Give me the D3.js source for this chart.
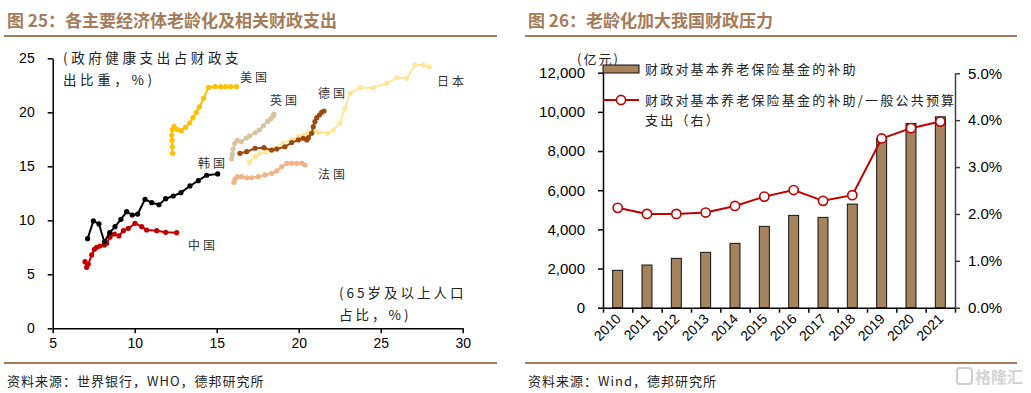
<!DOCTYPE html>
<html>
<head>
<meta charset="utf-8">
<script src="https://cdn.jsdelivr.net/npm/d3@7"></script>
<style>
  body { margin: 0; background: #fff; }
  svg text { font-family: "Noto Sans CJK SC", sans-serif; }
  .num { font-family: "Liberation Sans", Arial, sans-serif; }
</style>
</head>
<body>
<div id="chart"></div>
<script>
// ---- left chart data: [65+ population share %, health spending share of fiscal spending %]
var chinaPts = [[6.97, 6.17], [7.07, 5.65], [7.17, 5.95], [7.38, 6.79], [7.54, 7.31], [7.68, 7.5], [7.88, 7.62], [8.15, 7.71], [8.29, 7.87], [8.49, 8.43], [8.76, 8.73], [9.04, 8.55], [9.31, 9.04], [9.61, 9.26], [10.02, 9.72], [10.43, 9.41], [10.73, 9.1], [11.34, 9.04], [11.89, 8.89], [12.56, 8.85]];
var koreaPts = [[7.13, 8.3], [7.48, 9.94], [7.82, 9.66], [8.15, 7.99], [8.47, 8.85], [8.8, 9.41], [9.16, 10.09], [9.51, 10.8], [9.85, 10.49], [10.18, 10.58], [10.63, 11.94], [11.04, 11.63], [11.48, 11.44], [11.89, 12.0], [12.35, 12.25], [12.82, 12.56], [13.37, 13.18], [13.88, 13.67], [14.39, 14.17], [15.06, 14.29]];
var usaPts = [[12.3, 16.2], [12.3, 16.8], [12.28, 17.4], [12.26, 17.9], [12.3, 18.4], [12.4, 18.7], [12.6, 18.4], [12.85, 18.3], [13.1, 18.6], [13.35, 19.0], [13.55, 19.5], [13.75, 20.0], [13.95, 20.5], [14.2, 21.3], [14.5, 22.3], [14.9, 22.37], [15.25, 22.37], [15.55, 22.37], [15.85, 22.37], [16.2, 22.37]];
var ukPts = [[15.91, 15.7], [15.95, 16.1], [16.0, 16.6], [16.1, 17.1], [16.25, 17.4], [16.5, 17.28], [16.79, 17.62], [17.0, 17.8], [17.34, 18.1], [17.6, 18.36], [17.85, 18.75], [18.1, 19.15], [18.3, 19.4], [18.45, 19.66], [18.5, 19.84]];
var germanyPts = [[16.42, 16.2], [16.83, 16.35], [17.34, 16.67], [17.88, 16.72], [18.35, 16.5], [18.66, 16.6], [19.16, 16.81], [19.57, 17.2], [19.98, 17.44], [20.28, 17.59], [20.49, 17.44], [20.59, 17.65], [20.79, 18.06], [20.89, 18.67], [20.99, 19.13], [21.1, 19.5], [21.26, 19.75], [21.4, 20.0], [21.54, 20.12]];
var japanPts = [[16.99, 15.37], [17.34, 15.89], [17.64, 16.2], [18.05, 16.35], [18.55, 16.67], [19.06, 17.13], [19.57, 17.44], [19.98, 17.74], [20.28, 17.9], [20.59, 18.15], [20.89, 18.27], [21.2, 18.15], [21.8, 18.06], [22.11, 18.36], [22.52, 18.98], [22.82, 20.37], [23.13, 21.76], [23.74, 22.28], [24.55, 22.28], [25.37, 22.68], [25.98, 23.2], [26.59, 23.15], [27.09, 24.38], [27.6, 24.38], [27.97, 24.22]];
var francePts = [[16.05, 13.52], [16.12, 13.82], [16.26, 14.04], [16.52, 14.04], [16.83, 13.94], [17.13, 13.94], [17.54, 14.04], [17.95, 14.2], [18.35, 14.35], [18.66, 14.57], [18.96, 14.96], [19.27, 15.28], [19.57, 15.28], [19.88, 15.28], [20.18, 15.28], [20.38, 15.12]];
var leftXTicks = [5, 10, 15, 20, 25, 30];
var leftYTicks = [0, 5, 10, 15, 20, 25];

// ---- right chart data
var years = ["2010", "2011", "2012", "2013", "2014", "2015", "2016", "2017", "2018", "2019", "2020", "2021"];
var subsidy = [1908, 2179, 2520, 2826, 3285, 4153, 4714, 4612, 5291, 8640, 9408, 9745];
var subsidyRatio = [0.0213, 0.0200, 0.0200, 0.0203, 0.0217, 0.0237, 0.0251, 0.0228, 0.0240, 0.0361, 0.0383, 0.0397];
var rightYTicks = [0, 2000, 4000, 6000, 8000, 10000, 12000];
var rightY2Ticks = [0, 0.01, 0.02, 0.03, 0.04, 0.05];

var brown = "#a57b5a";
var width = 1031, height = 393;

var svg = d3.select("#chart").append("svg").attr("width", width).attr("height", height);

// panel frame: title, rules, source
function drawFrame(x0, x1, title, source) {
  svg.append("text").attr("x", x0 + 3).attr("y", 27).text(title)
    .style("font-size", "17px").style("font-weight", "bold").style("fill", brown);
  svg.append("line").attr("x1", x0).attr("x2", x1).attr("y1", 36).attr("y2", 36)
    .style("stroke", brown).style("stroke-width", 2.2);
  svg.append("line").attr("x1", x0).attr("x2", x1).attr("y1", 363).attr("y2", 363)
    .style("stroke", brown).style("stroke-width", 2.2);
  svg.append("text").attr("x", x0 + 3).attr("y", 386).text(source)
    .style("font-size", "13px").style("letter-spacing", "1px").style("fill", "#222");
}

drawFrame(4, 497, "图 25：各主要经济体老龄化及相关财政支出", "资料来源：世界银行，WHO，德邦研究所");
drawFrame(525, 1017, "图 26：老龄化加大我国财政压力", "资料来源：Wind，德邦研究所");

function styleAxis(g, size) {
  g.select(".domain").style("stroke", "#000").style("stroke-width", 1.5);
  g.selectAll(".tick line").style("stroke", "#000").style("stroke-width", 1.5);
  g.selectAll(".tick text").attr("class", "num").style("font-size", size).style("fill", "#000");
}

// ---------------- left chart ----------------
var xL = d3.scaleLinear().domain([5, 30]).range([52.7, 462.7]);
var yL = d3.scaleLinear().domain([0, 25]).range([328.3, 58.3]);

var gx = svg.append("g").attr("transform", "translate(0," + yL(0) + ")")
  .call(d3.axisBottom(xL).tickValues(leftXTicks).tickSize(5).tickSizeOuter(0).tickPadding(5));
styleAxis(gx, "14px");
var gy = svg.append("g").attr("transform", "translate(" + xL(5) + ",0)")
  .call(d3.axisLeft(yL).tickValues(leftYTicks).tickSize(5).tickSizeOuter(0).tickPadding(13));
styleAxis(gy, "14px");

var series = [
  { name: "中国", pts: chinaPts, color: "#c00000", lab: [13.25, 7.25] },
  { name: "韩国", pts: koreaPts, color: "#000000", lab: [13.86, 14.84] },
  { name: "美国", pts: usaPts, color: "#ffc000", lab: [16.42, 22.8] },
  { name: "英国", pts: ukPts, color: "#d6c49d", lab: [18.25, 20.68] },
  { name: "日本", pts: japanPts, color: "#ffe699", lab: [28.43, 22.43] },
  { name: "法国", pts: francePts, color: "#f4b183", lab: [21.18, 13.82] },
  { name: "德国", pts: germanyPts, color: "#9c4a12", lab: [21.18, 21.32] }
];

var lineL = d3.line().x(function (d) { return xL(d[0]); }).y(function (d) { return yL(d[1]); });

series.forEach(function (s) {
  svg.append("path").datum(s.pts).attr("d", lineL)
    .style("fill", "none").style("stroke", s.color).style("stroke-width", 2);
  svg.selectAll(null).data(s.pts).enter().append("circle")
    .attr("cx", function (d) { return xL(d[0]); })
    .attr("cy", function (d) { return yL(d[1]); })
    .attr("r", 2.6).style("fill", s.color);
  svg.append("text").attr("x", xL(s.lab[0])).attr("y", yL(s.lab[1])).text(s.name)
    .style("font-size", "12px").style("letter-spacing", "3px").style("fill", "#333");
});

svg.append("text").attr("x", 63).attr("y", 63).text("(政府健康支出占财政支")
  .style("font-size", "13.5px").style("letter-spacing", "3.6px").style("fill", "#222");
svg.append("text").attr("x", 63).attr("y", 85).text("出比重，%)")
  .style("font-size", "13.5px").style("letter-spacing", "3.6px").style("fill", "#222");
svg.append("text").attr("x", 339).attr("y", 298).text("(65岁及以上人口")
  .style("font-size", "13.5px").style("letter-spacing", "3px").style("fill", "#222");
svg.append("text").attr("x", 339).attr("y", 320).text("占比，%)")
  .style("font-size", "13.5px").style("letter-spacing", "3px").style("fill", "#222");

// ---------------- right chart ----------------
var xR = d3.scaleBand().domain(years).range([603, 955]).paddingInner(0.66).paddingOuter(0.33);
var xIdx = d3.scaleLinear().domain([0, years.length]).range([603, 955]);
var yR = d3.scaleLinear().domain([0, 12000]).range([307.7, 72.7]);
var yR2 = d3.scaleLinear().domain([0, 0.05]).range([307.7, 73.3]);

svg.selectAll(".bar").data(subsidy).enter().append("rect").attr("class", "bar")
  .attr("x", function (d, i) { return xR(years[i]); })
  .attr("y", function (d) { return yR(d); })
  .attr("width", xR.bandwidth())
  .attr("height", function (d) { return yR(0) - yR(d); })
  .style("fill", "#a5835c").style("stroke", "#111").style("stroke-width", 1);

var gxR = svg.append("g").attr("transform", "translate(0," + yR(0) + ")")
  .call(d3.axisBottom(xIdx).tickValues(d3.range(years.length + 1)).tickFormat("").tickSize(5).tickSizeOuter(0));
styleAxis(gxR, "14px");

svg.selectAll(".year").data(years).enter().append("text").attr("class", "num year")
  .attr("transform", function (d) {
    return "translate(" + (xR(d) + xR.bandwidth() / 2 + 4) + "," + (yR(0) + 12) + ") rotate(-45)";
  })
  .attr("text-anchor", "end").text(function (d) { return d; })
  .style("font-size", "14px").style("fill", "#000");

var gyR = svg.append("g").attr("transform", "translate(" + xIdx(0) + ",0)")
  .call(d3.axisLeft(yR).tickValues(rightYTicks).tickFormat(d3.format(",")).tickSize(5).tickSizeOuter(0).tickPadding(13));
styleAxis(gyR, "15px");

var gy2R = svg.append("g").attr("transform", "translate(" + xIdx(years.length) + ",0)")
  .call(d3.axisRight(yR2).tickValues(rightY2Ticks).tickFormat(d3.format(".1%")).tickSize(5).tickSizeOuter(0).tickPadding(8));
styleAxis(gy2R, "15px");
gy2R.select(".domain").style("stroke", "#404040");
gy2R.selectAll(".tick line").style("stroke", "#404040");

var lineR = d3.line()
  .x(function (d, i) { return xR(years[i]) + xR.bandwidth() / 2; })
  .y(function (d) { return yR2(d); });
svg.append("path").datum(subsidyRatio).attr("d", lineR)
  .style("fill", "none").style("stroke", "#c00000").style("stroke-width", 2);
svg.selectAll(".dot").data(subsidyRatio).enter().append("circle").attr("class", "dot")
  .attr("cx", function (d, i) { return xR(years[i]) + xR.bandwidth() / 2; })
  .attr("cy", function (d) { return yR2(d); })
  .attr("r", 4.6).style("fill", "#fff").style("stroke", "#c00000").style("stroke-width", 1.6);

// legend and unit
svg.append("text").attr("x", 577).attr("y", 64).text("(亿元)")
  .style("font-size", "13px").style("letter-spacing", "2px").style("fill", "#222");
svg.append("rect").attr("x", 603).attr("y", 65).attr("width", 36).attr("height", 8)
  .style("fill", "#a5835c").style("stroke", "#111").style("stroke-width", 1);
svg.append("text").attr("x", 645).attr("y", 74).text("财政对基本养老保险基金的补助")
  .style("font-size", "13px").style("letter-spacing", "2.2px").style("fill", "#222");
svg.append("line").attr("x1", 603).attr("x2", 639).attr("y1", 100).attr("y2", 100)
  .style("stroke", "#c00000").style("stroke-width", 2);
svg.append("circle").attr("cx", 621).attr("cy", 100).attr("r", 4.6)
  .style("fill", "#fff").style("stroke", "#c00000").style("stroke-width", 1.6);
svg.append("text").attr("x", 645).attr("y", 105).text("财政对基本养老保险基金的补助/一般公共预算")
  .style("font-size", "13px").style("letter-spacing", "2.2px").style("fill", "#222");
svg.append("text").attr("x", 645).attr("y", 125).text("支出（右）")
  .style("font-size", "13px").style("letter-spacing", "2.2px").style("fill", "#222");

// watermark
svg.append("rect").attr("x", 957).attr("y", 368).attr("width", 15).attr("height", 16).attr("rx", 3)
  .style("fill", "none").style("stroke", "#cfcfcf").style("stroke-width", 2);
svg.append("text").attr("x", 975).attr("y", 383).text("格隆汇")
  .style("font-size", "16px").style("font-weight", "bold").style("fill", "#d4d4d4");
</script>
</body>
</html>
